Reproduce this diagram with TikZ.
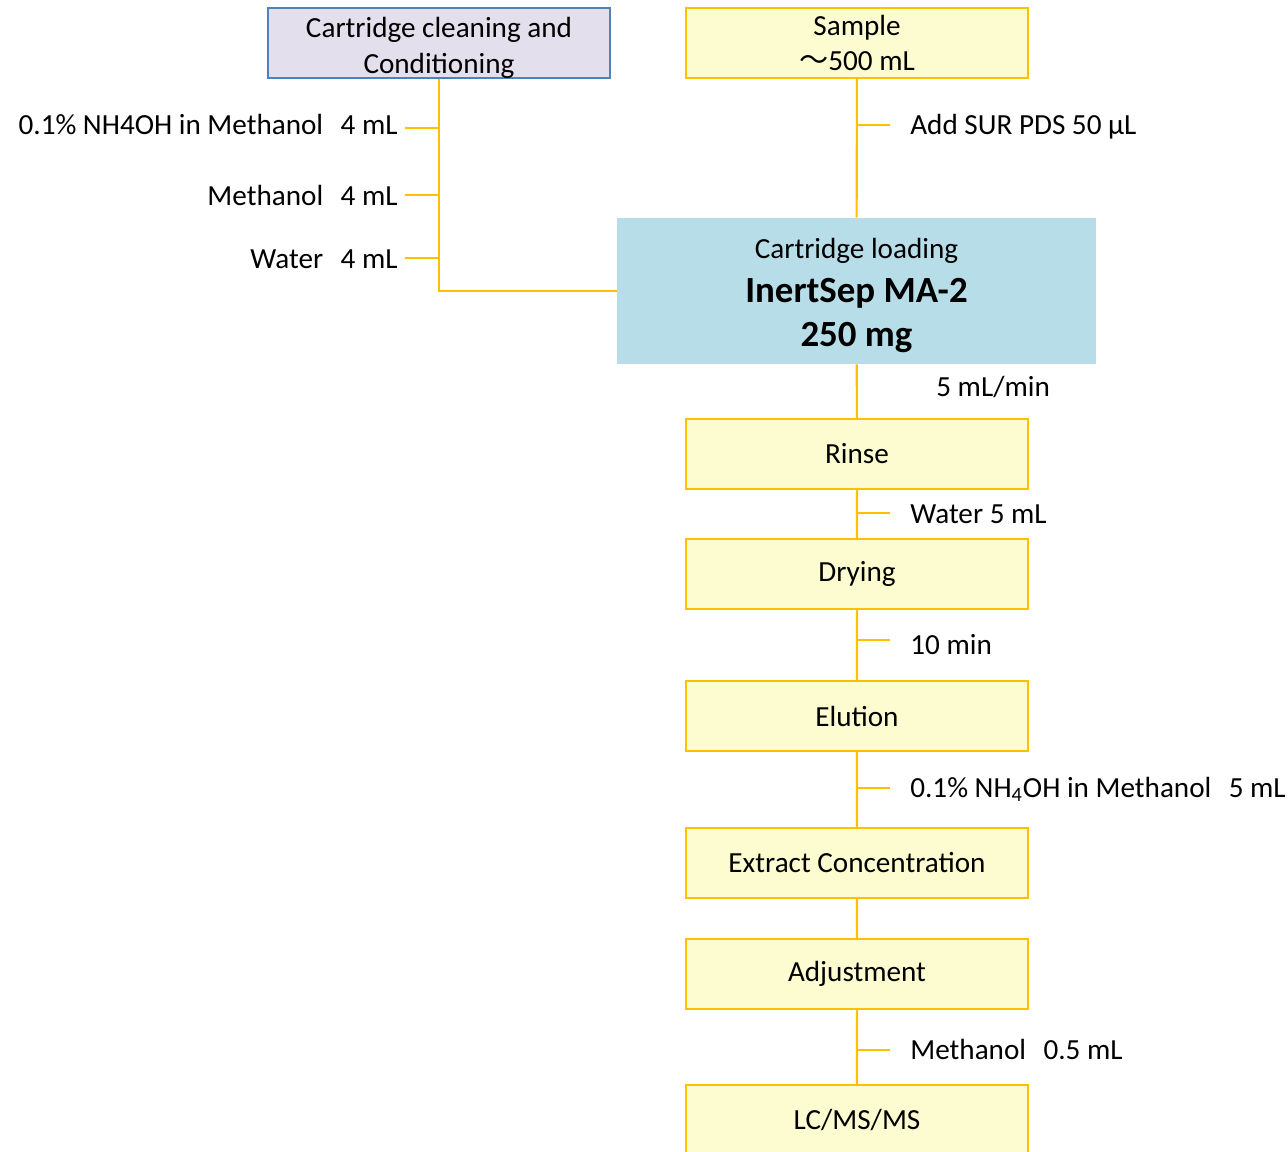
\documentclass[tikz,border=0pt]{standalone}
\usepackage{fontspec}
\setmainfont{Carlito}
\newfontfamily\cjk{Noto Sans CJK JP}
\definecolor{boxyellow}{HTML}{FCFCD0}
\definecolor{lineorange}{HTML}{FFC000}
\definecolor{condfill}{HTML}{E4DFEC}
\definecolor{condline}{HTML}{4F81BD}
\definecolor{loadfill}{HTML}{B7DEE8}
\newcommand{\gapsp}{\hspace{0.6em}}
\newcommand{\tallstrut}{\rule{0pt}{17pt}}

\begin{document}
\begin{tikzpicture}[x=0.02cm,y=-0.02cm,
      font=\fontsize{16.6}{20.4}\selectfont,
      step node/.style={draw=lineorange,fill=boxyellow,line width=1.2pt,
        minimum width=6.84cm,minimum height=1.4cm,align=center,inner sep=0pt},
      cond node/.style={step node,draw=condline,fill=condfill},
      load node/.style={fill=loadfill,minimum width=9.58cm,minimum height=2.92cm,
        align=center,inner sep=0pt,font=\fontsize{16.6}{25}\selectfont},
      flow/.style={draw=lineorange,line width=1.2pt},
      note/.style={inner sep=0pt,text height=1.5ex,text depth=.3ex,yshift=-0.08cm}]
    \clip (0,0) rectangle (1288,1152);
    % boxes
    \node[cond node] (cond)   at (439,43)  {\tallstrut Cartridge cleaning and\\Conditioning};
    \node[step node] (sample) at (857,43)  {Sample\\{\cjk ～}500 mL};
    \node[load node] (load)   at (856.5,291) {\tallstrut Cartridge loading\\
      {\fontsize{21}{25}\selectfont\bfseries InertSep MA-2}\\
      {\fontsize{21}{25}\selectfont\bfseries 250 mg}};
    \node[step node] (rinse)  at (857,454)  {Rinse};
    \node[step node] (dry)    at (857,574)  {Drying};
    \node[step node] (elute)  at (857,716)  {Elution};
    \node[step node] (conc)   at (857,863)  {Extract Concentration};
    \node[step node] (adjust) at (857,974)  {Adjustment};
    \node[step node] (lcms)   at (857,1120) {LC/MS/MS};
    % main flow
    \draw[flow] (sample) -- (load) -- (rinse) -- (dry) -- (elute) -- (conc)
      -- (adjust) -- (lcms);
    \draw[flow] (cond.south) |- (load.west);
    % left side
    \coordinate (l1) at (405,128);
    \coordinate (l2) at (405,195);
    \coordinate (l3) at (405,258);
    \foreach \c in {l1,l2,l3}
      \draw[flow] (\c) -- (\c -| cond);
    \node[note,anchor=east] (nh1)  at (398,125) {0.1\% NH4OH in Methanol\gapsp 4 mL};
    \node[note,anchor=east] (meth) at (398,196) {Methanol\gapsp 4 mL};
    \node[note,anchor=east] (wat)  at (398,259) {Water\gapsp 4 mL};
    % right side
    \coordinate (r1) at (890,125);
    \coordinate (r2) at (890,513);
    \coordinate (r3) at (890,640);
    \coordinate (r4) at (890,788);
    \coordinate (r5) at (890,1050);
    \foreach \c in {r1,r2,r3,r4,r5}
      \draw[flow] (\c) -- (\c -| sample);
    \node[note,anchor=west] (sur)   at (910,125)  {Add SUR PDS 50 µL};
    \node[note,anchor=west] (rate)  at (936,387)  {5 mL/min};
    \node[note,anchor=west] (water) at (910,514)  {Water 5 mL};
    \node[note,anchor=west] (time)  at (910,645)  {10 min};
    \node[note,anchor=west] (nh2)   at (910,788)  {0.1\% NH\textsubscript{4}OH in Methanol\gapsp 5 mL};
    \node[note,anchor=west] (meth2) at (910,1050) {Methanol\gapsp 0.5 mL};
\end{tikzpicture}
\end{document}
